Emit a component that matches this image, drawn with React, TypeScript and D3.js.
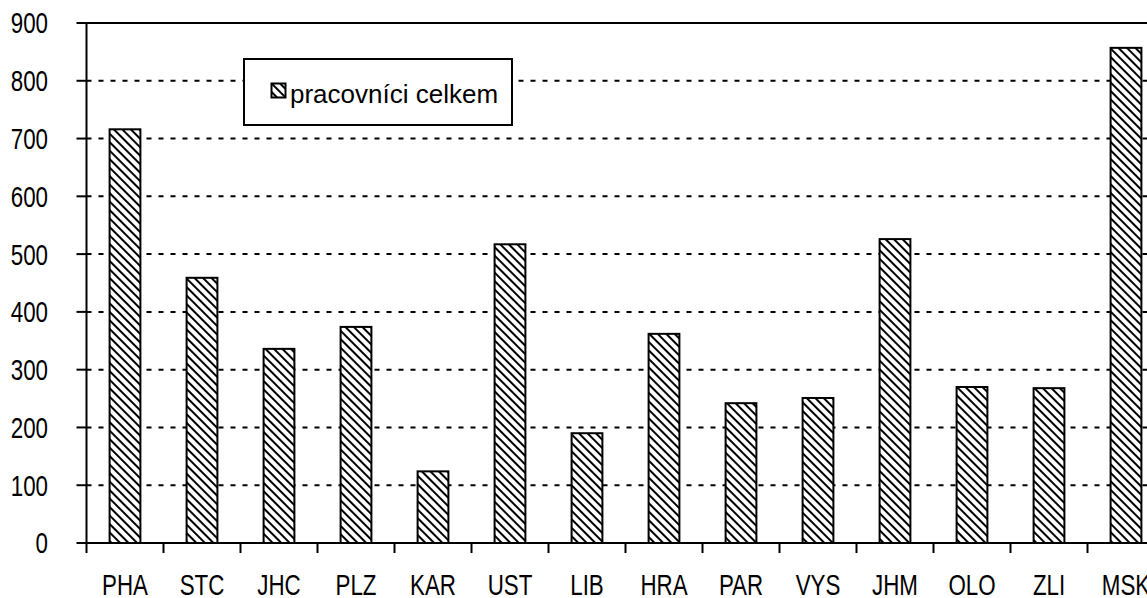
import React from "react";
import * as d3 from "d3";

const categories = ["PHA", "STC", "JHC", "PLZ", "KAR", "UST", "LIB", "HRA", "PAR", "VYS", "JHM", "OLO", "ZLI", "MSK"];
const values = [716, 459, 336, 374, 124, 517, 190, 362, 242, 251, 526, 270, 268, 857];
const yTicks = [0, 100, 200, 300, 400, 500, 600, 700, 800, 900];
const seriesName = "pracovníci celkem";

const W = 1147, H = 598;
const left = 86.5, top = 23, bottom = 543;
const bandW = 77;
const FONT = "'Liberation Sans', Arial, sans-serif";
const SX = 0.77;

export default function App() {
  const x = d3.scaleBand<string>().domain(categories).range([left, left + bandW * categories.length]).paddingInner(0.6).paddingOuter(0.3);
  const xb = d3.scaleBand<string>().domain(categories).range([left, left + bandW * categories.length]);
  const y = d3.scaleLinear().domain([0, 900]).range([bottom, top]);
  const right = left + bandW * categories.length;
  return (
    <svg width={W} height={H} style={{ position: "absolute", left: 0, top: 0, background: "#fff" }}>
      <defs>
        <pattern id="hatch" patternUnits="userSpaceOnUse" width="6" height="6" patternTransform="rotate(-45)">
          <rect width="6" height="6" fill="#fff" />
          <rect x="0" y="0" width="2" height="6" fill="#000" />
        </pattern>
      </defs>
      {yTicks.filter(t => t > 0).map(t => (
        <line key={t} x1={left} x2={right} y1={y(t)} y2={y(t)} stroke="#000" strokeWidth={2} strokeDasharray="5,7" />
      ))}
      <line x1={left} x2={right} y1={top} y2={top} stroke="#000" strokeWidth={2} />
      {categories.map((c, i) => (
        <rect key={c} x={x(c)} y={y(values[i])} width={x.bandwidth()} height={bottom - y(values[i])}
          fill="url(#hatch)" stroke="#000" strokeWidth={2} />
      ))}
      <line x1={left} x2={left} y1={top} y2={bottom} stroke="#000" strokeWidth={2} />
      <line x1={left} x2={right} y1={bottom} y2={bottom} stroke="#000" strokeWidth={2} />
      {yTicks.map(t => (
        <g key={t}>
          <line x1={left - 10} x2={left} y1={y(t)} y2={y(t)} stroke="#000" strokeWidth={2} />
          <text transform={`translate(48,${y(t)}) scale(${SX},1)`} dy="0.36em" textAnchor="end" fontFamily={FONT} fontSize={29} fill="#000">{t}</text>
        </g>
      ))}
      {categories.map(c => (
        <line key={"t" + c} x1={xb(c)} x2={xb(c)} y1={bottom} y2={bottom + 10} stroke="#000" strokeWidth={2} />
      ))}
      {categories.map(c => (
        <text key={"l" + c} transform={`translate(${(xb(c) as number) + bandW / 2},595) scale(${SX},1)`} textAnchor="middle" fontFamily={FONT} fontSize={29} fill="#000">{c}</text>
      ))}
      <rect x={244} y={59} width={268} height={66} fill="#fff" stroke="#000" strokeWidth={2} />
      <rect x={271.5} y={83.5} width={14} height={14} fill="url(#hatch)" stroke="#000" strokeWidth={2} />
      <text x={290} y={103} fontFamily={FONT} fontSize={26} fill="#000">{seriesName}</text>
    </svg>
  );
}
